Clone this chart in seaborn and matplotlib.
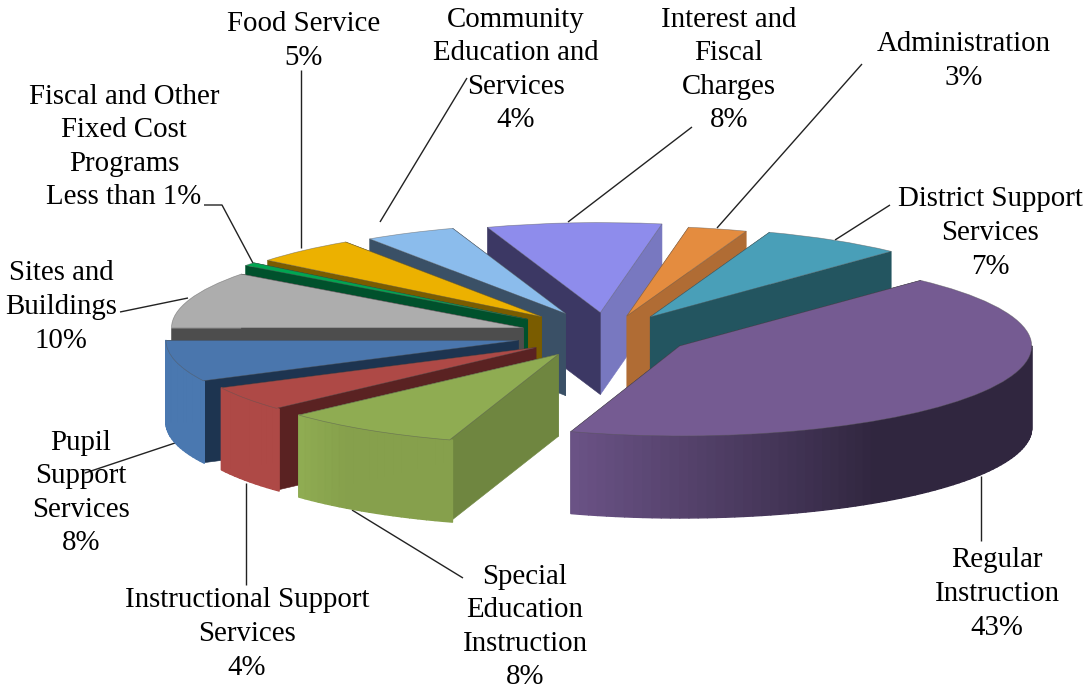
import matplotlib
matplotlib.use('Agg')
import matplotlib.pyplot as plt
from matplotlib.collections import PolyCollection
from matplotlib.colors import to_rgb
import numpy as np
import seaborn as sns

# data, clockwise from the big slice
names = ['Regular\nInstruction', 'Special\nEducation\nInstruction', 'Instructional Support\nServices',
         'Pupil\nSupport\nServices', 'Sites and\nBuildings', 'Fiscal and Other\nFixed Cost\nPrograms',
         'Food Service', 'Community\nEducation and\nServices', 'Interest and\nFiscal\nCharges',
         'Administration', 'District Support\nServices']
values = [43.0, 8.2, 4.4, 7.4, 10.2, 0.6, 4.8, 4.2, 8.0, 2.7, 6.5]
pct_text = ['43%', '8%', '4%', '8%', '10%', 'Less than 1%', '5%', '4%', '8%', '3%', '7%']

# colours
top_colors = ['#755b92', '#8fac52', '#ae4946', '#4a76ad', '#adadad', '#00a651',
              '#ecb100', '#8bbcec', '#8e8cec', '#e48c3f', '#499fb8']
face_ccw = ['#30263f', '#6f8640', '#5a2222', '#1d3450', '#4d4d4d', '#00512c',
            '#7a5c00', '#3a5066', '#3c3864', '#b06c34', '#235560']
face_cw = ['#30263f', '#6f8640', '#5a2222', '#1d3450', '#4d4d4d', '#00512c',
           '#7a5c00', '#3a5066', '#7878c0', '#b06c34', '#235560']
arc_from = ['#6a5285', '#8fac52', '#ae4946', '#4a78b0', '#4d4d4d', '#00512c',
            '#7a5c00', '#3a5066', '#7878c0', '#b06c34', '#235560']
arc_to = ['#30263f', '#86a04c', '#ae4946', '#4a78b0', '#4d4d4d', '#00512c',
          '#7a5c00', '#3a5066', '#7878c0', '#b06c34', '#235560']
explode = [0.24, 0.255, 0.245, 0.26, 0.25, 0.285, 0.275, 0.265, 0.25, 0.22, 0.235]

# layout in pixels
W, H = 1085, 691
CX, CY = 607, 335
RX, RY = 352, 90
DEPTH = 82 / RY
label_pos = [(997, 594), (525, 627), (247, 634), (81, 493), (61, 307), (124, 147),
             (304, 41), (516, 70), (729, 70), (964, 61), (990, 233)]
leaders = [((981, 476), (981, 541)), ((352, 510), (463, 578)), ((246, 483), (246, 585)),
           ((178, 442), (85, 473)), ((188, 298), (120, 312)), ((254, 265), (222, 205), (204, 205)),
           ((301, 248), (301, 70)), ((380, 222), (467, 78)), ((568, 222), (692, 127)),
           ((717, 228), (862, 64)), ((835, 240), (890, 205))]

sns.set_theme(style='white')
plt.rcParams['font.family'] = ['Liberation Serif', 'DejaVu Serif']

fig = plt.figure(figsize=(W / 100, H / 100), dpi=100)
ax = fig.add_axes([0, 0, 1, 1])
palette = sns.color_palette(top_colors)

wedges, _ = ax.pie(values, colors=palette, explode=explode, startangle=46.8,
                   counterclock=False, radius=1, wedgeprops={'linewidth': 0.5, 'edgecolor': '#55555588'})
ax.set_aspect('auto')
ax.set_xlim(-CX / RX, (W - CX) / RX)
ax.set_ylim((CY - H) / RY, CY / RY)
ax.set_axis_off()


def blend(c1, c2, t):
    a, b = np.array(to_rgb(c1)), np.array(to_rgb(c2))
    return tuple(a + (b - a) * t)


def mid_angle(w):
    return np.radians((w.theta1 + w.theta2) / 2)


# back slices first
order = sorted(range(len(wedges)), key=lambda i: -np.sin(mid_angle(wedges[i])))
for rank, i in enumerate(order):
    w = wedges[i]
    z = 2 + rank
    cx, cy = w.center
    # straight cut faces, going down from the top
    for ang, col in ((w.theta1, face_cw[i]), (w.theta2, face_ccw[i])):
        ex, ey = cx + np.cos(np.radians(ang)), cy + np.sin(np.radians(ang))
        ax.fill([cx, ex, ex, cx], [cy, ey, ey - DEPTH, cy - DEPTH], color=col, lw=0.4, zorder=z)
    # outer wall, only where it faces the viewer
    th = np.radians(np.arange(w.theta1, w.theta2 + 1.5, 1.5))
    th = th[np.sin(th) <= 0]
    if len(th) > 1:
        px, py = cx + np.cos(th), cy + np.sin(th)
        quads, cols = [], []
        for k in range(len(th) - 1):
            quads.append([(px[k], py[k]), (px[k + 1], py[k + 1]),
                          (px[k + 1], py[k + 1] - DEPTH), (px[k], py[k] - DEPTH)])
            # lighter end is the clockwise-most part of the slice
            frac = (np.degrees(th[k]) - w.theta1) / (w.theta2 - w.theta1)
            cols.append(blend(arc_from[i], arc_to[i], min(frac / 0.33, 1)))
        ax.add_collection(PolyCollection(quads, facecolors=cols, edgecolors=cols, linewidths=1.0, zorder=z + 0.1))
    w.set_zorder(z + 0.2)

# leader lines
for pts in leaders:
    xs = [(p[0] - CX) / RX for p in pts]
    ys = [(CY - p[1]) / RY for p in pts]
    ax.plot(xs, ys, color='#222222', lw=1.0, zorder=1, solid_capstyle='butt')

# labels
for name, pct, (x, y) in zip(names, pct_text, label_pos):
    fig.text(x / W, 1 - y / H, name + '\n' + pct, ha='center', va='center',
             fontsize=20.8, color='black', linespacing=1.38)

fig.savefig('out.png', dpi=100)
